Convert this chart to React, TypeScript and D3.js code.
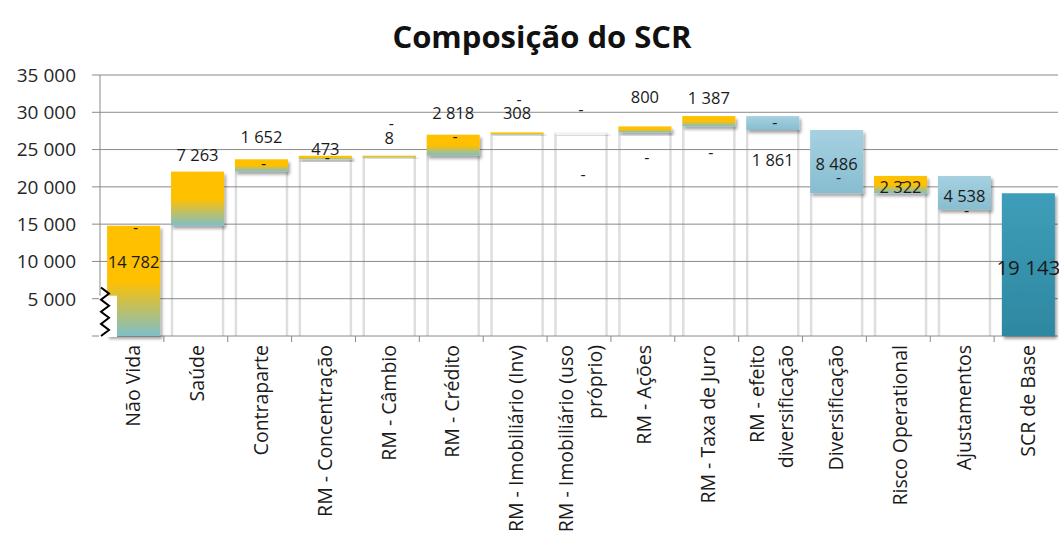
import React, { useEffect, useRef } from 'react';
import * as d3 from 'd3';

const categories = [
  'Não Vida',
  'Saúde',
  'Contraparte',
  'RM - Concentração',
  'RM - Câmbio',
  'RM - Crédito',
  'RM - Imobiliário (Inv)',
  'RM - Imobiliário (uso|próprio)',
  'RM - Ações',
  'RM - Taxa de Juro',
  'RM - efeito|diversificação',
  'Diversificação',
  'Risco Operational',
  'Ajustamentos',
  'SCR de Base',
];
const changes = [14782, 7263, 1652, 473, 8, 2818, 308, 0, 800, 1387, -1861, -8486, 2322, -4538, 19143];
const isTotal = [false, false, false, false, false, false, false, false, false, false, false, false, false, false, true];
const yTicks = [5000, 10000, 15000, 20000, 25000, 30000, 35000];

// where Excel left the labels: [reference edge, offset in px]
const valueLabelPos: [string, number][] = [
  ['top', 36], ['top', -16], ['top', -22], ['top', -7], ['top', -17], ['top', -21], ['top', -19],
  ['top', -23], ['top', -29], ['top', -18], ['bottom', 30], ['top', 34], ['mid', 3], ['top', 20], ['mid', 3],
];
const dashPos: ([string, number] | null)[] = [
  ['top', 2], null, ['top', 4], ['top', 2], ['top', -32], ['top', 2], ['top', -33],
  ['bottom', 42], ['bottom', 25], ['bottom', 26], ['top', 6], ['bottom', -16], ['top', 5], ['bottom', 1], null,
];

const fmt = d3.formatLocale({ decimal: ',', thousands: ' ', grouping: [3], currency: ['', ''] }).format(',');

function App() {
  const ref = useRef<SVGSVGElement | null>(null);

  useEffect(() => {
    const svg = d3.select(ref.current);
    svg.selectAll('*').remove();

    const left = 100;
    const right = 1058;
    const top = 75;
    const bottom = 336;
    const font = '"Open Sans", "Noto Sans", sans-serif';
    const gridColor = '#8a8a8a';

    let running = 0;
    const data = categories.map((c, i) => {
      let start;
      let end;
      if (isTotal[i]) {
        start = 0;
        end = changes[i];
      } else {
        start = running;
        end = running + changes[i];
        running = end;
      }
      return { name: c, value: changes[i], start, end, total: isTotal[i], i };
    });

    const x = d3.scaleBand().domain(categories).range([left, right]).paddingInner(0.17).paddingOuter(0.08);
    const y = d3.scaleLinear().domain([0, 35000]).range([bottom, top]);

    const defs = svg.append('defs');
    const addGrad = (id: string, stops: [number, string][]) => {
      const g = defs.append('linearGradient').attr('id', id).attr('x1', 0).attr('y1', 0).attr('x2', 0).attr('y2', 1);
      stops.forEach(([o, c]) => g.append('stop').attr('offset', o).attr('stop-color', c));
    };
    addGrad('up', [[0, '#FFC000'], [0.5, '#FFC000'], [1, '#7FBFC8']]);
    addGrad('down', [[0, '#A6D1E1'], [1, '#87BDCF']]);
    addGrad('total', [[0, '#3E9EB9'], [1, '#2E87A1']]);
    const filter = defs.append('filter').attr('id', 'shadow').attr('x', '-20%').attr('y', '-50%').attr('width', '140%').attr('height', '200%');
    filter.append('feDropShadow').attr('dx', 2).attr('dy', 3).attr('stdDeviation', 1.8).attr('flood-color', '#000').attr('flood-opacity', 0.35);

    // title
    svg.append('text')
      .attr('x', 542).attr('y', 48)
      .attr('text-anchor', 'middle')
      .style('font-family', font).style('font-weight', 700).style('font-size', '31px')
      .attr('fill', '#111')
      .text('Composição do SCR');

    // invisible base bars leave faint edges
    const bw = x.bandwidth();
    const bx = (d: any) => (x(d.name) as number) + 2;
    data.filter((d) => !d.total && Math.min(d.start, d.end) > 0).forEach((d) => {
      const b = Math.min(d.start, d.end);
      [bx(d) + 1, bx(d) + bw - 1].forEach((xx) => {
        svg.append('line')
          .attr('x1', xx).attr('x2', xx)
          .attr('y1', y(b)).attr('y2', bottom)
          .attr('stroke', '#dedede').attr('stroke-width', 2.5);
      });
    });

    // gridlines + y axis
    svg.selectAll('line.grid')
      .data(yTicks)
      .join('line')
      .attr('class', 'grid')
      .attr('x1', left - 8).attr('x2', right)
      .attr('y1', (d) => y(d)).attr('y2', (d) => y(d))
      .attr('stroke', gridColor).attr('stroke-width', 1);
    svg.append('line').attr('x1', left).attr('x2', left).attr('y1', top).attr('y2', bottom).attr('stroke', gridColor);
    svg.append('line').attr('x1', left - 8).attr('x2', right).attr('y1', bottom).attr('y2', bottom).attr('stroke', gridColor);
    svg.selectAll('text.ytick')
      .data(yTicks)
      .join('text')
      .attr('class', 'ytick')
      .attr('x', 76).attr('y', (d) => y(d))
      .attr('dy', '0.36em')
      .attr('text-anchor', 'end')
      .style('font-family', font).style('font-size', '19px')
      .attr('fill', '#262626')
      .text((d) => fmt(d));

    // x ticks at category boundaries
    const step = x.step();
    d3.range(1, categories.length).forEach((k) => {
      const xx = left + (right - left) * k / categories.length;
      svg.append('line').attr('x1', xx).attr('x2', xx).attr('y1', bottom).attr('y2', bottom + 6).attr('stroke', gridColor);
    });

    // bars
    svg.selectAll('rect.bar')
      .data(data)
      .join('rect')
      .attr('class', 'bar')
      .attr('x', (d) => bx(d))
      .attr('width', bw)
      .attr('y', (d) => y(Math.max(d.start, d.end)))
      .attr('height', (d) => Math.max(2, Math.abs(y(d.start) - y(d.end))))
      .attr('fill', (d) => (d.total ? 'url(#total)' : d.value === 0 ? '#f2f2f2' : d.value > 0 ? 'url(#up)' : 'url(#down)'))
      .attr('filter', 'url(#shadow)');

    // broken axis mark on the first bar
    svg.append('rect').attr('x', left - 1).attr('y', y(5400)).attr('width', 18).attr('height', bottom - y(5400) + 1).attr('fill', '#fff');
    const zz: [number, number][] = [];
    const z0 = y(6500);
    const n = 8;
    for (let k = 0; k <= n; k++) {
      zz.push([left + 5 + (k % 2 === 0 ? -4 : 4), z0 + (bottom - z0) * k / n]);
    }
    svg.append('path').attr('d', d3.line()(zz)).attr('fill', 'none').attr('stroke', '#000').attr('stroke-width', 2);

    const edge = (d: any, p: [string, number]) => {
      const t = y(Math.max(d.start, d.end));
      const b = y(Math.min(d.start, d.end));
      const base = p[0] === 'top' ? t : p[0] === 'bottom' ? b : (t + b) / 2;
      return base + p[1];
    };

    // value labels
    svg.selectAll('text.val')
      .data(data)
      .join('text')
      .attr('class', 'val')
      .attr('x', (d) => bx(d) + bw / 2)
      .attr('y', (d) => edge(d, valueLabelPos[d.i]))
      .attr('dy', '0.35em')
      .attr('text-anchor', 'middle')
      .style('font-family', font).style('font-size', (d) => (d.total ? '20.5px' : '16.5px'))
      .attr('fill', '#1a1a1a')
      .text((d) => (d.value === 0 ? '-' : fmt(Math.abs(d.value))));

    // zero labels of the other series
    svg.selectAll('text.dash')
      .data(data.filter((d) => dashPos[d.i]))
      .join('text')
      .attr('class', 'dash')
      .attr('x', (d) => bx(d) + bw / 2 + 2)
      .attr('y', (d) => edge(d, dashPos[d.i] as [string, number]))
      .attr('dy', '0.35em')
      .attr('text-anchor', 'middle')
      .style('font-family', font).style('font-size', '16px')
      .attr('fill', '#1a1a1a')
      .text('-');

    // category labels, rotated
    const lineH = 29;
    data.forEach((d) => {
      const lines = d.name.split('|');
      const g = svg.append('g').attr('transform', `translate(${(x(d.name) as number) + step / 2 - 4},${bottom + 9}) rotate(-90)`);
      lines.forEach((ln, k) => {
        g.append('text')
          .attr('x', 0)
          .attr('y', (k - (lines.length - 1) / 2) * lineH)
          .attr('dy', '0.35em')
          .attr('text-anchor', 'end')
          .style('font-family', font).style('font-size', '19.5px')
          .attr('fill', '#1a1a1a')
          .text(ln);
      });
    });
  }, []);

  return (
    <svg
      ref={ref}
      width={1059}
      height={533}
      style={{ position: 'absolute', left: 0, top: 0, background: '#fff' }}
    />
  );
}

export default App;
